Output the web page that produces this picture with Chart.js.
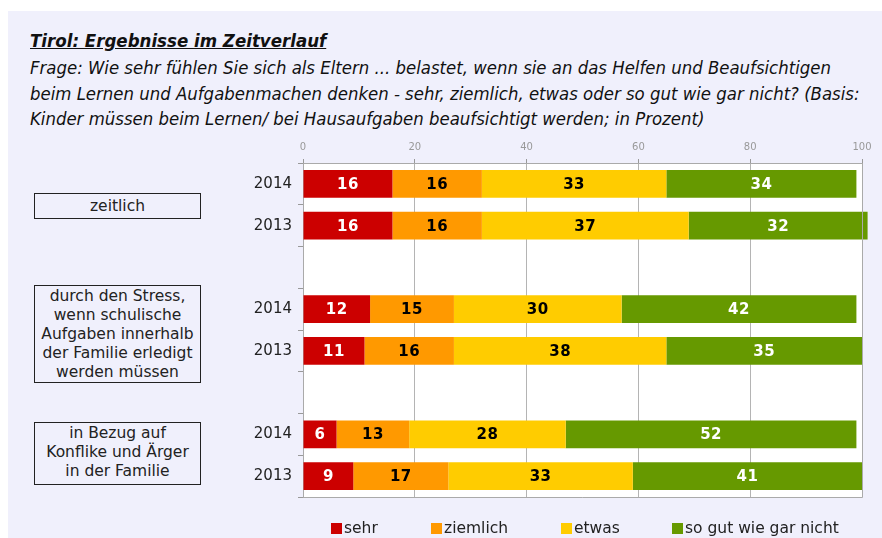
<!DOCTYPE html>
<html>
<head>
<meta charset="utf-8">
<script src="https://cdn.jsdelivr.net/npm/chart.js@4"></script>
<style>
  html, body { margin: 0; padding: 0; background: #fff; }
  #page { position: relative; width: 882px; height: 538px; overflow: hidden; }
  #panel { position: absolute; left: 8px; top: 11px; right: 0; bottom: 0; background: #f0f0fc; }
  #title { position: absolute; left: 30px; top: 30px; font: italic bold 18.5px "Liberation Sans Narrow", "DejaVu Sans Condensed", sans-serif; text-decoration: underline; color: #111; white-space: nowrap; }
  #question { position: absolute; left: 30px; top: 55px; width: 850px; font: italic 18.4px/25.5px "Liberation Sans Narrow", "DejaVu Sans Condensed", sans-serif; color: #111; }
  .box { position: absolute; left: 34px; width: 167px; border: 1px solid #222; font: 15.5px/19px "DejaVu Sans", Verdana, sans-serif; color: #222; text-align: center; box-sizing: border-box; white-space: nowrap; }
  #legend { position: absolute; top: 519px; left: 0; width: 882px; height: 19px; font: 15.5px "DejaVu Sans", Verdana, sans-serif; color: #222; }
  .item { position: absolute; top: 0; white-space: nowrap; }
  .swatch { display: inline-block; width: 11px; height: 11px; margin-right: 2px; vertical-align: -1px; }
  canvas { position: absolute; left: 0; top: 0; }
</style>
</head>
<body>
<div id="page">
  <div id="panel"></div>
  <div id="title">Tirol: Ergebnisse im Zeitverlauf</div>
  <div id="question">Frage: Wie sehr fühlen Sie sich als Eltern ... belastet, wenn sie an das Helfen und Beaufsichtigen<br>beim Lernen und Aufgabenmachen denken - sehr, ziemlich, etwas oder so gut wie gar nicht? (Basis:<br>Kinder müssen beim Lernen/ bei Hausaufgaben beaufsichtigt werden; in Prozent)</div>
  <div class="box" style="top:193px;height:26px;line-height:24px;">zeitlich</div>
  <div class="box" style="top:285px;height:98px;padding-top:1px;">durch den Stress,<br>wenn schulische<br>Aufgaben innerhalb<br>der Familie erledigt<br>werden müssen</div>
  <div class="box" style="top:422px;height:63px;padding-top:1px;">in Bezug auf<br>Konflike und Ärger<br>in der Familie</div>
  <canvas id="chart" width="882" height="538"></canvas>
  <div id="legend"></div>
</div>
<script>
  // rows: 2014 / 2013 per topic, empty rows between topics
  const years = ["2014", "2013", "", "2014", "2013", "", "2014", "2013"];
  const sehr = [16, 16, null, 12, 11, null, 6, 9];
  const ziemlich = [16, 16, null, 15, 16, null, 13, 17];
  const etwas = [33, 37, null, 30, 38, null, 28, 33];
  const garNicht = [34, 32, null, 42, 35, null, 52, 41];
  const seriesNames = ["sehr", "ziemlich", "etwas", "so gut wie gar nicht"];
  const seriesColors = ["#cc0000", "#ff9900", "#ffcc00", "#669900"];
  const labelColors = ["#ffffff", "#000000", "#000000", "#ffffff"];
  const xTicks = [0, 20, 40, 60, 80, 100];

  const seriesValues = [sehr, ziemlich, etwas, garNicht];

  // white plot background and grey frame
  const plotFrame = {
    id: "plotFrame",
    beforeDraw(chart) {
      const a = chart.chartArea;
      const ctx = chart.ctx;
      ctx.save();
      ctx.fillStyle = "#ffffff";
      ctx.fillRect(a.left, a.top, a.right - a.left, a.bottom - a.top);
      ctx.restore();
    },
    afterDraw(chart) {
      const a = chart.chartArea;
      const ctx = chart.ctx;
      ctx.save();
      ctx.strokeStyle = "#aaaaaa";
      ctx.lineWidth = 1;
      ctx.beginPath();
      ctx.moveTo(a.right + 0.5, a.top);
      ctx.lineTo(a.right + 0.5, a.bottom + 0.5);
      ctx.lineTo(a.left, a.bottom + 0.5);
      ctx.stroke();
      ctx.restore();
    }
  };

  // value labels in the middle of each segment
  const valueLabels = {
    id: "valueLabels",
    afterDatasetsDraw(chart) {
      const ctx = chart.ctx;
      ctx.save();
      ctx.font = "bold 15px 'DejaVu Sans', Verdana, sans-serif";
      ctx.letterSpacing = "0.5px";
      ctx.textAlign = "center";
      ctx.textBaseline = "middle";
      chart.data.datasets.forEach((ds, i) => {
        const meta = chart.getDatasetMeta(i);
        meta.data.forEach((bar, j) => {
          const v = ds.data[j];
          if (v == null) return;
          ctx.fillStyle = labelColors[i];
          ctx.fillText(String(v), (bar.x + bar.base) / 2, bar.y + 1);
        });
      });
      ctx.restore();
    }
  };

  new Chart(document.getElementById("chart"), {
    type: "bar",
    data: {
      labels: years,
      datasets: seriesNames.map((name, i) => ({
        label: name,
        data: seriesValues[i],
        backgroundColor: seriesColors[i],
        borderWidth: 0,
        barPercentage: 0.66,
        categoryPercentage: 1,
        clip: false
      }))
    },
    options: {
      indexAxis: "y",
      responsive: false,
      animation: false,
      layout: { padding: { left: 230, right: 20, top: 130, bottom: 41 } },
      plugins: {
        legend: { display: false },
        tooltip: { enabled: false }
      },
      scales: {
        x: {
          position: "top",
          stacked: true,
          min: 0,
          max: 100,
          afterBuildTicks(scale) { scale.ticks = xTicks.map(v => ({ value: v })); },
          afterFit(scale) { scale.height = 33; },
          grid: { color: "#b4b4b4", tickLength: 4, tickColor: "#999999" },
          border: { color: "#aaaaaa" },
          ticks: { color: "#999999", padding: 6, font: { family: "'DejaVu Sans', sans-serif", size: 10 } }
        },
        y: {
          stacked: true,
          afterFit(scale) { scale.width = 73; },
          grid: { drawOnChartArea: false, tickLength: 5, color: "#999999" },
          border: { color: "#aaaaaa" },
          ticks: { color: "#222222", padding: 6, font: { family: "'DejaVu Sans', Verdana, sans-serif", size: 15 } }
        }
      }
    },
    plugins: [plotFrame, valueLabels]
  });

  // legend below the plot
  const legendLeft = [331, 431, 561, 672];
  const legend = document.getElementById("legend");
  seriesNames.forEach((name, i) => {
    const item = document.createElement("span");
    item.className = "item";
    item.style.left = legendLeft[i] + "px";
    item.innerHTML = '<span class="swatch" style="background:' + seriesColors[i] + '"></span>' + name;
    legend.appendChild(item);
  });
</script>
</body>
</html>
